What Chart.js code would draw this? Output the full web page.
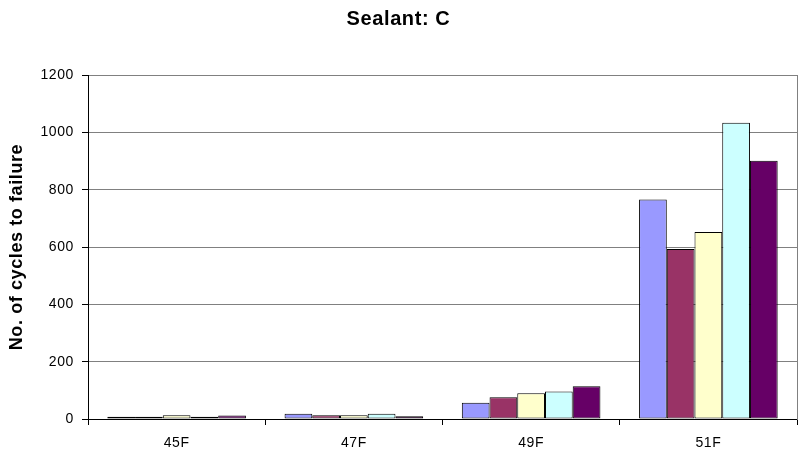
<!DOCTYPE html>
<html>
<head>
<meta charset="utf-8">
<script src="https://cdn.jsdelivr.net/npm/chart.js@4/dist/chart.umd.min.js"></script>
<style>
  html, body { margin: 0; padding: 0; background: #fff; }
  #wrap { width: 799px; height: 454px; }
</style>
</head>
<body>
<div id="wrap"><canvas id="sealantChart" width="799" height="454"></canvas></div>
<script>
// values
const categories = ["45F", "47F", "49F", "51F"];
const seriesNames = ["Series1", "Series2", "Series3", "Series4", "Series5"];
const series1 = [8, 18, 57, 766];
const series2 = [8, 13, 76, 593];
const series3 = [13, 13, 90, 652];
const series4 = [8, 18, 96, 1033];
const series5 = [12, 10, 114, 901];
const yTicks = [0, 200, 400, 600, 800, 1000, 1200];

const barColors = ["#9999FF", "#993366", "#FFFFCC", "#CCFFFF", "#660066"];
const allSeries = [series1, series2, series3, series4, series5];

// Excel-ish text is a little wider than plain Arial
const spacingPlugin = {
  id: "spacing",
  beforeDraw(chart) { chart.ctx.letterSpacing = "0.6px"; },
  afterDraw(chart) { chart.ctx.letterSpacing = "0px"; }
};

document.addEventListener("DOMContentLoaded", () => {
  const canvas = document.getElementById("sealantChart");

  new Chart(canvas, {
    type: "bar",
    data: {
      labels: categories,
      datasets: allSeries.map((vals, i) => ({
        label: seriesNames[i],
        data: vals,
        backgroundColor: barColors[i],
        borderColor: "#000",
        borderWidth: 1,
        borderSkipped: false,
        categoryPercentage: 0.782,
        barPercentage: 1
      }))
    },
    options: {
      responsive: false,
      animation: false,
      layout: { padding: { left: 0, right: 2, top: 0, bottom: 0 } },
      plugins: {
        legend: { display: false },
        tooltip: { enabled: false },
        title: {
          display: true,
          text: "Sealant: C",
          color: "#000",
          font: { family: "Arial, 'Liberation Sans', sans-serif", size: 20, weight: "bold" },
          padding: { top: 7, bottom: 44 }
        }
      },
      scales: {
        x: {
          grid: {
            display: true,
            offset: true,
            drawOnChartArea: false,
            drawTicks: true,
            tickLength: 6,
            color: "#000",
            tickColor: "#000"
          },
          border: { display: true, color: "#000", width: 1 },
          ticks: {
            color: "#000",
            padding: 10,
            font: { family: "Arial, 'Liberation Sans', sans-serif", size: 14 }
          },
          afterFit(scale) { scale.height = 35; }
        },
        y: {
          min: 0,
          max: 1200,
          afterBuildTicks(scale) { scale.ticks = yTicks.map(v => ({ value: v })); },
          grid: {
            color: "#808080",
            tickColor: "#000",
            tickLength: 6,
            drawTicks: true
          },
          border: { display: true, color: "#000", width: 1 },
          ticks: {
            color: "#000",
            padding: 8,
            callback: v => String(v),
            font: { family: "Arial, 'Liberation Sans', sans-serif", size: 14 }
          },
          title: {
            display: true,
            text: "No. of cycles to failure",
            color: "#000",
            font: { family: "Arial, 'Liberation Sans', sans-serif", size: 18, weight: "bold" },
            padding: { top: 6, bottom: 0 }
          },
          afterFit(scale) { scale.width = 88; }
        },
        yRight: {
          position: "right",
          min: 0,
          max: 1200,
          grid: { display: false, drawTicks: false },
          border: { display: true, color: "#808080", width: 1 },
          ticks: { display: false },
          afterFit(scale) { scale.width = 0; }
        }
      }
    },
    plugins: [spacingPlugin]
  });
});
</script>
</body>
</html>
